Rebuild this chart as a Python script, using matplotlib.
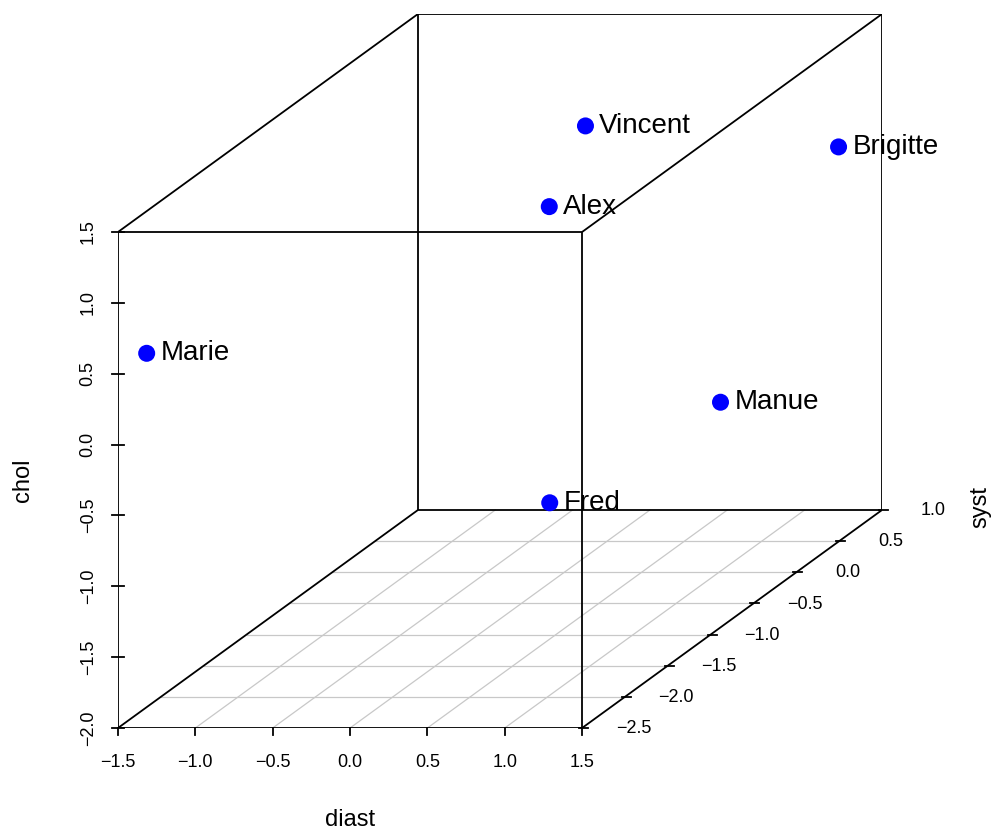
import numpy as np
import matplotlib
matplotlib.use("Agg")
import matplotlib.pyplot as plt

plt.rcParams['font.family'] = ['Liberation Sans', 'DejaVu Sans']

# data
names = ["Marie", "Alex", "Vincent", "Brigitte", "Manue", "Fred"]
diast = [-1.37, 0.18, -0.14, 1.33, 1.01, 0.46]
syst = [-2.40, -0.50, 0.50, 0.80, 0.00, -1.00]
chol = [0.60, 0.80, 0.93, 0.65, -0.80, -1.07]

x_ticks = [-1.5, -1.0, -0.5, 0.0, 0.5, 1.0, 1.5]
y_ticks = [-2.5, -2.0, -1.5, -1.0, -0.5, 0.0, 0.5, 1.0]
z_ticks = [-2.0, -1.5, -1.0, -0.5, 0.0, 0.5, 1.0, 1.5]

xmin, xmax = -1.5, 1.5
ymin, ymax = -2.5, 1.0
zmin, zmax = -2.0, 1.5

# oblique projection: depth (syst) shifts right and up
cu = 0.554
cv = 0.4395


def proj(x, y, z):
    x = np.asarray(x, dtype=float)
    y = np.asarray(y, dtype=float)
    z = np.asarray(z, dtype=float)
    return x + cu * (y - ymin), z + cv * (y - ymin)


fig = plt.figure(figsize=(9.92, 8.30), dpi=100)
ax = fig.add_axes([118 / 992, 102 / 830, 764 / 992, 714 / 830])
ax.set_xlim(xmin, xmax + cu * (ymax - ymin))
ax.set_ylim(zmin, zmax + cv * (ymax - ymin))
ax.axis("off")

# floor grid
gcol = "#c8c8c8"
for xv in x_ticks[1:-1]:
    u, v = proj([xv, xv], [ymin, ymax], [zmin, zmin])
    ax.plot(u, v, color=gcol, lw=0.9, zorder=1)
for yv in y_ticks[1:-1]:
    u, v = proj([xmin, xmax], [yv, yv], [zmin, zmin])
    ax.plot(u, v, color=gcol, lw=0.9, zorder=1)

# box edges
corners = [(a, b, c) for a in (xmin, xmax) for b in (ymin, ymax) for c in (zmin, zmax)]
for i in range(len(corners)):
    for j in range(i + 1, len(corners)):
        p, q = corners[i], corners[j]
        if sum(p[k] != q[k] for k in range(3)) == 1:
            u, v = proj([p[0], q[0]], [p[1], q[1]], [p[2], q[2]])
            ax.plot(u, v, color="black", lw=1.3, zorder=2, solid_capstyle="butt")

tick_size = 13
tx_len = 7 / 141.7   # tick length in z units
tz_len = 6 / 154.7   # tick length in x units

# x axis (diast)
for xv in x_ticks:
    u, v = proj(xv, ymin, zmin)
    ax.plot([u, u], [v, v - tx_len], color="black", lw=1.3, clip_on=False)
    ax.annotate(f"{xv:.1f}".replace("-", "\u2212"), (u, v), xytext=(0, -24.5),
                textcoords="offset points", ha="center", va="center",
                fontsize=tick_size, annotation_clip=False)

# z axis (chol)
for zv in z_ticks:
    u, v = proj(xmin, ymin, zv)
    ax.plot([u - tz_len, u + tz_len], [v, v], color="black", lw=1.3, clip_on=False)
    ax.annotate(f"{zv:.1f}".replace("-", "\u2212"), (u, v), xytext=(-21.5, 0),
                textcoords="offset points", ha="center", va="center",
                rotation=90, fontsize=tick_size, annotation_clip=False)

# y axis (syst) along the bottom-right depth edge
for yv in y_ticks:
    u, v = proj(xmax, yv, zmin)
    ax.plot([u - 0.5 * tz_len, u + 1.0 * tz_len], [v, v], color="black",
            lw=1.3, clip_on=False)
    ax.annotate(f"{yv:.1f}".replace("-", "\u2212"), (u, v), xytext=(37, -0.5),
                textcoords="offset points", ha="center", va="center",
                fontsize=tick_size, annotation_clip=False)

# points with names
pu, pv = proj(diast, syst, chol)
ax.scatter(pu, pv, s=150, color="blue", edgecolors="none", zorder=4, clip_on=False)
for name, a, b in zip(names, pu, pv):
    ax.annotate(name, (a, b), xytext=(10, 0), textcoords="offset points",
                ha="left", va="center", fontsize=20, zorder=5,
                annotation_clip=False)

# axis titles
fig.text(350 / 992, 1 - 820 / 830, "diast", ha="center", va="center", fontsize=17)
fig.text(23 / 992, 1 - 480 / 830, "chol", ha="center", va="center", fontsize=17, rotation=90)
fig.text(980 / 992, 1 - 507 / 830, "syst", ha="center", va="center", fontsize=17, rotation=90)

fig.savefig("out.png", dpi=100, facecolor="white")
